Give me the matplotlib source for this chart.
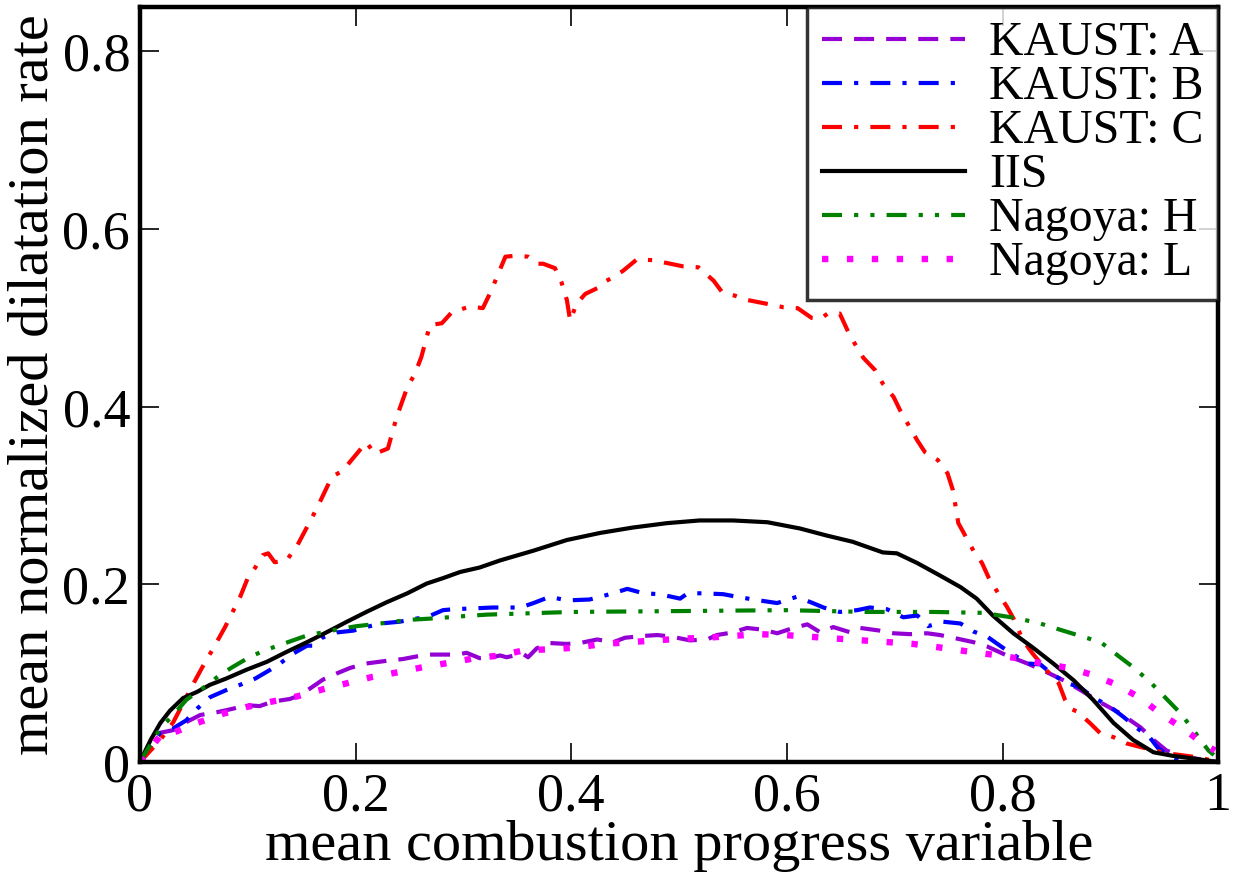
import numpy as np
import matplotlib
matplotlib.use("Agg")
import matplotlib.pyplot as plt

# -----------------------------
# Data
# -----------------------------
# KAUST: A
xa = [0.0, 0.019, 0.031, 0.043, 0.056, 0.071, 0.086, 0.099, 0.111, 0.123, 0.139, 0.148, 0.158,
      0.170, 0.183, 0.195, 0.210, 0.229, 0.244, 0.257, 0.269, 0.281, 0.294, 0.303, 0.315, 0.327,
      0.334, 0.340, 0.355, 0.360, 0.368, 0.380, 0.396, 0.408, 0.424, 0.439, 0.450, 0.467, 0.480,
      0.494, 0.510, 0.526, 0.535, 0.550, 0.563, 0.578, 0.591, 0.606, 0.619, 0.631, 0.643, 0.659,
      0.668, 0.686, 0.699, 0.714, 0.730, 0.742, 0.754, 0.773, 0.786, 0.804, 0.823, 0.838, 0.860,
      0.875, 0.891, 0.909, 0.928, 0.940, 0.952, 0.968, 1.0]
ya = [0.0, 0.033, 0.036, 0.045, 0.053, 0.056, 0.060, 0.064, 0.063, 0.068, 0.071, 0.075, 0.083,
      0.093, 0.100, 0.106, 0.111, 0.114, 0.116, 0.119, 0.121, 0.121, 0.121, 0.123, 0.117, 0.118,
      0.120, 0.118, 0.122, 0.118, 0.128, 0.134, 0.133, 0.134, 0.138, 0.135, 0.140, 0.142, 0.143,
      0.141, 0.137, 0.138, 0.143, 0.146, 0.151, 0.149, 0.145, 0.151, 0.155, 0.146, 0.152, 0.146,
      0.151, 0.148, 0.145, 0.144, 0.145, 0.143, 0.140, 0.135, 0.130, 0.120, 0.111, 0.103, 0.090,
      0.079, 0.067, 0.055, 0.039, 0.025, 0.013, 0.006, 0.0]

# KAUST: B
xb = [0.0, 0.019, 0.031, 0.043, 0.053, 0.065, 0.080, 0.093, 0.107, 0.121, 0.130, 0.142, 0.155,
      0.161, 0.169, 0.183, 0.198, 0.210, 0.223, 0.241, 0.253, 0.266, 0.281, 0.290, 0.309, 0.327,
      0.353, 0.365, 0.380, 0.396, 0.417, 0.439, 0.452, 0.467, 0.482, 0.501, 0.508, 0.522, 0.541,
      0.554, 0.569, 0.591, 0.609, 0.622, 0.634, 0.649, 0.665, 0.677, 0.693, 0.708, 0.721, 0.731,
      0.745, 0.761, 0.773, 0.786, 0.800, 0.823, 0.835, 0.847, 0.860, 0.872, 0.884, 0.900, 0.912,
      0.925, 0.937, 0.944, 0.955, 0.968]
yb = [0.0, 0.033, 0.038, 0.047, 0.060, 0.073, 0.081, 0.087, 0.094, 0.104, 0.111, 0.122, 0.131,
      0.131, 0.140, 0.146, 0.148, 0.152, 0.156, 0.158, 0.161, 0.163, 0.171, 0.172, 0.173, 0.174,
      0.174, 0.179, 0.186, 0.182, 0.183, 0.190, 0.195, 0.190, 0.189, 0.184, 0.190, 0.190, 0.189,
      0.186, 0.183, 0.179, 0.186, 0.180, 0.174, 0.169, 0.171, 0.174, 0.172, 0.163, 0.165, 0.153,
      0.158, 0.156, 0.147, 0.141, 0.129, 0.111, 0.110, 0.098, 0.089, 0.084, 0.073, 0.062, 0.051,
      0.038, 0.027, 0.016, 0.006, 0.0]

# KAUST: C
xc = [0.0, 0.019, 0.031, 0.049, 0.058, 0.068, 0.079, 0.093, 0.100, 0.107, 0.114, 0.119, 0.125,
      0.136, 0.146, 0.160, 0.167, 0.178, 0.188, 0.210, 0.218, 0.230, 0.238, 0.248, 0.255, 0.261,
      0.269, 0.280, 0.289, 0.306, 0.318, 0.326, 0.331, 0.339, 0.348, 0.360, 0.369, 0.374, 0.385,
      0.391, 0.396, 0.399, 0.405, 0.413, 0.425, 0.430, 0.439, 0.448, 0.461, 0.476, 0.492, 0.504,
      0.518, 0.532, 0.540, 0.552, 0.560, 0.581, 0.597, 0.610, 0.623, 0.631, 0.638, 0.649, 0.657,
      0.663, 0.671, 0.682, 0.689, 0.699, 0.705, 0.713, 0.721, 0.728, 0.740, 0.749, 0.754, 0.759,
      0.764, 0.773, 0.781, 0.787, 0.798, 0.804, 0.810, 0.819, 0.828, 0.841, 0.852, 0.858, 0.863,
      0.869, 0.881, 0.891, 0.903, 0.915, 0.931, 0.952, 0.983, 1.0]
yc = [0.0, 0.025, 0.045, 0.087, 0.107, 0.128, 0.152, 0.186, 0.207, 0.219, 0.233, 0.235, 0.225,
      0.227, 0.244, 0.276, 0.293, 0.321, 0.328, 0.360, 0.347, 0.353, 0.388, 0.422, 0.437, 0.456,
      0.492, 0.494, 0.506, 0.513, 0.511, 0.531, 0.546, 0.569, 0.570, 0.569, 0.561, 0.561, 0.556,
      0.540, 0.520, 0.497, 0.516, 0.527, 0.534, 0.540, 0.546, 0.553, 0.566, 0.565, 0.561, 0.558,
      0.557, 0.542, 0.529, 0.525, 0.521, 0.516, 0.512, 0.511, 0.500, 0.499, 0.505, 0.505, 0.484,
      0.471, 0.455, 0.441, 0.426, 0.411, 0.396, 0.379, 0.362, 0.349, 0.340, 0.325, 0.306, 0.269,
      0.258, 0.238, 0.224, 0.208, 0.186, 0.175, 0.162, 0.137, 0.122, 0.103, 0.089, 0.070, 0.060,
      0.057, 0.044, 0.032, 0.028, 0.021, 0.016, 0.010, 0.005, 0.0]

# IIS
xi = [0.0, 0.010, 0.019, 0.028, 0.040, 0.053, 0.065, 0.080, 0.099, 0.118, 0.136, 0.155, 0.173,
      0.192, 0.210, 0.229, 0.248, 0.266, 0.281, 0.297, 0.315, 0.334, 0.365, 0.396, 0.427, 0.457,
      0.489, 0.519, 0.550, 0.582, 0.612, 0.637, 0.661, 0.689, 0.702, 0.721, 0.742, 0.761, 0.776,
      0.791, 0.810, 0.828, 0.847, 0.866, 0.884, 0.903, 0.921, 0.940, 0.958, 0.977, 1.0]
yi = [0.0, 0.025, 0.044, 0.058, 0.072, 0.079, 0.087, 0.094, 0.104, 0.113, 0.124, 0.135, 0.146,
      0.158, 0.169, 0.180, 0.190, 0.201, 0.207, 0.214, 0.219, 0.227, 0.238, 0.250, 0.258, 0.264,
      0.269, 0.272, 0.272, 0.270, 0.263, 0.255, 0.248, 0.236, 0.235, 0.224, 0.210, 0.197, 0.184,
      0.165, 0.145, 0.129, 0.111, 0.092, 0.070, 0.044, 0.025, 0.011, 0.007, 0.004, 0.0]

# Nagoya: H
xh = [0.0, 0.019, 0.031, 0.043, 0.065, 0.074, 0.086, 0.100, 0.114, 0.128, 0.142, 0.156, 0.170,
      0.186, 0.201, 0.223, 0.248, 0.276, 0.297, 0.322, 0.400, 0.500, 0.600, 0.674, 0.736, 0.782,
      0.813, 0.835, 0.856, 0.891, 0.909, 0.921, 0.937, 0.953, 0.965, 0.977, 0.986, 0.991, 0.996]
yh = [0.0, 0.038, 0.053, 0.070, 0.089, 0.098, 0.107, 0.117, 0.125, 0.131, 0.137, 0.143, 0.146,
      0.150, 0.153, 0.156, 0.160, 0.162, 0.164, 0.166, 0.169, 0.170, 0.171, 0.169, 0.169, 0.168,
      0.162, 0.156, 0.148, 0.135, 0.118, 0.107, 0.090, 0.070, 0.055, 0.036, 0.021, 0.013, 0.008]

# Nagoya: L
xl = [0.0, 0.021, 0.031, 0.053, 0.076, 0.099, 0.122, 0.146, 0.170, 0.193, 0.216, 0.239, 0.263,
      0.288, 0.311, 0.334, 0.357, 0.382, 0.405, 0.430, 0.454, 0.478, 0.503, 0.526, 0.550, 0.573,
      0.598, 0.622, 0.646, 0.670, 0.694, 0.717, 0.742, 0.765, 0.790, 0.813, 0.837, 0.861, 0.884,
      0.906, 0.928, 0.946, 0.967, 0.986, 0.997]
yl = [0.0, 0.033, 0.033, 0.044, 0.054, 0.062, 0.068, 0.074, 0.082, 0.089, 0.096, 0.101, 0.107,
      0.112, 0.117, 0.120, 0.126, 0.127, 0.129, 0.133, 0.135, 0.137, 0.139, 0.140, 0.142, 0.144,
      0.143, 0.141, 0.139, 0.137, 0.135, 0.133, 0.129, 0.125, 0.121, 0.117, 0.111, 0.106, 0.098,
      0.087, 0.072, 0.055, 0.038, 0.021, 0.013]

labels = ["KAUST: A", "KAUST: B", "KAUST: C", "IIS", "Nagoya: H", "Nagoya: L"]
xticks = [0, 0.2, 0.4, 0.6, 0.8, 1]
xticklabels = ["0", "0.2", "0.4", "0.6", "0.8", "1"]
yticks = [0, 0.2, 0.4, 0.6, 0.8]
yticklabels = ["0", "0.2", "0.4", "0.6", "0.8"]

# -----------------------------
# Plot
# -----------------------------
plt.rcParams["font.family"] = ["Liberation Serif", "DejaVu Serif"]

fig = plt.figure(figsize=(12.38, 8.81), dpi=100)
ax = fig.add_axes([0.113, 0.135, 0.871, 0.857])

lw = 3.0
ax.plot(xa, ya, color="#9400d3", lw=lw, dashes=(4.8, 2.9), label=labels[0])
ax.plot(xb, yb, color="#0000ff", lw=lw, dashes=(4.8, 2.9, 1.0, 2.9), label=labels[1])
ax.plot(xc, yc, color="#ff0000", lw=lw, dashes=(4.8, 2.9, 1.0, 2.9), label=labels[2])
ax.plot(xi, yi, color="black", lw=lw, label=labels[3])
ax.plot(xh, yh, color="#008000", lw=lw, dashes=(4.8, 2.9, 1.0, 2.9, 1.0, 2.9), label=labels[4])
ax.plot(xl, yl, color="#ff00ff", lw=4.6, dashes=(1.0, 2.9), label=labels[5])

ax.set_xlim(0, 1)
ax.set_ylim(0, 0.85)
ax.set_xticks(xticks)
ax.set_xticklabels(xticklabels)
ax.set_yticks(yticks)
ax.set_yticklabels(yticklabels)
ax.tick_params(direction="in", length=14, width=1.2, top=True, right=True,
               labelsize=39, pad=7)
for s in ax.spines.values():
    s.set_linewidth(3.2)

ax.set_xlabel("mean combustion progress variable", fontsize=42, labelpad=-2)
ax.set_ylabel("mean normalized dilatation rate", fontsize=42, labelpad=2)

leg = ax.legend(loc="upper right", fontsize=34.5, frameon=True, fancybox=False,
                borderaxespad=0, handlelength=3.0, handletextpad=0.5,
                labelspacing=0.0, borderpad=0.3)
leg.get_frame().set_edgecolor("black")
leg.get_frame().set_linewidth(2.5)

fig.savefig("out.png", dpi=100)
